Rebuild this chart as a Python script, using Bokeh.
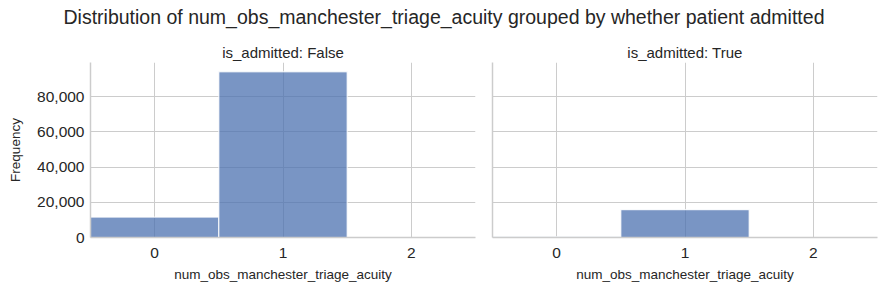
from bokeh.plotting import figure
from bokeh.layouts import column, row
from bokeh.models import Range1d, FixedTicker, NumeralTickFormatter
from bokeh.embed import file_html
from bokeh.resources import INLINE

# ---- data ----
bins = [0, 1, 2]
counts_false = [11600, 94200, 0]
counts_true = [400, 15800, 0]
panel_titles = ["is_admitted: False", "is_admitted: True"]
main_title = "Distribution of num_obs_manchester_triage_acuity grouped by whether patient admitted"
x_label = "num_obs_manchester_triage_acuity"
y_label = "Frequency"
y_ticks = [0, 20000, 40000, 60000, 80000]

FONT = "Liberation Sans"
TXT = "#262626"
GRID = "#cccccc"
BAR = "#4c72b0"

y_range = Range1d(0, 99500)


def make_panel(counts, title, width, left, right, show_y):
    p = figure(width=width, height=260, output_backend="svg", toolbar_location=None,
               x_range=Range1d(-0.5, 2.5), y_range=y_range,
               min_border_left=left, min_border_right=right,
               min_border_top=28, min_border_bottom=57)
    p.outline_line_color = None
    p.background_fill_color = "white"
    p.border_fill_color = "white"
    p.vbar(x=bins, top=counts, width=1.0, bottom=0,
           fill_color=BAR, fill_alpha=0.75, line_color="white", line_width=1)
    p.title.text = title
    p.title.align = "center"
    p.title.text_font = FONT
    p.title.text_font_size = "15px"
    p.title.text_font_style = "normal"
    p.title.text_color = TXT
    p.title.standoff = 4
    for ax in (p.xaxis, p.yaxis):
        ax.axis_line_color = GRID
        ax.axis_line_width = 1.5
        ax.major_tick_line_color = None
        ax.minor_tick_line_color = None
        ax.major_tick_out = 0
        ax.major_tick_in = 0
        ax.major_label_text_font = FONT
        ax.major_label_text_font_size = "15.5px"
        ax.major_label_text_color = TXT
        ax.axis_label_text_font = FONT
        ax.axis_label_text_font_size = "13.5px"
        ax.axis_label_text_font_style = "normal"
        ax.axis_label_text_color = TXT
    p.xaxis.ticker = FixedTicker(ticks=bins)
    p.xaxis.axis_label = x_label
    p.xaxis.major_label_standoff = 10
    p.xaxis.axis_label_standoff = 6
    if show_y:
        p.yaxis.ticker = FixedTicker(ticks=y_ticks)
        p.yaxis.formatter = NumeralTickFormatter(format="0,0")
        p.yaxis.axis_label = y_label
        p.yaxis.major_label_standoff = 6
        p.yaxis.axis_label_standoff = 11
    else:
        # shared y: spine only, labels hidden (as in the reference facet)
        p.yaxis.ticker = FixedTicker(ticks=[])
        p.yaxis.major_label_standoff = 0
    p.xgrid.grid_line_color = GRID
    p.ygrid.grid_line_color = GRID
    p.xgrid.grid_line_width = 1
    p.ygrid.grid_line_width = 1
    p.xgrid.ticker = FixedTicker(ticks=bins)
    p.ygrid.ticker = FixedTicker(ticks=y_ticks)
    return p


p1 = make_panel(counts_false, panel_titles[0], 480, 90, 5, True)
p2 = make_panel(counts_true, panel_titles[1], 407, 12, 10, False)

header = figure(width=887, height=34, output_backend="svg", toolbar_location=None,
                x_axis_type=None, y_axis_type=None, min_border=0)
header.outline_line_color = None
header.xgrid.visible = False
header.ygrid.visible = False
header.title.text = main_title
header.title.align = "center"
header.title.text_font = FONT
header.title.text_font_size = "19.5px"
header.title.text_font_style = "normal"
header.title.text_color = TXT
header.title.standoff = 6

layout = column(header, row(p1, p2, spacing=0), spacing=0)

open("out.html", "w").write(file_html(layout, INLINE))
